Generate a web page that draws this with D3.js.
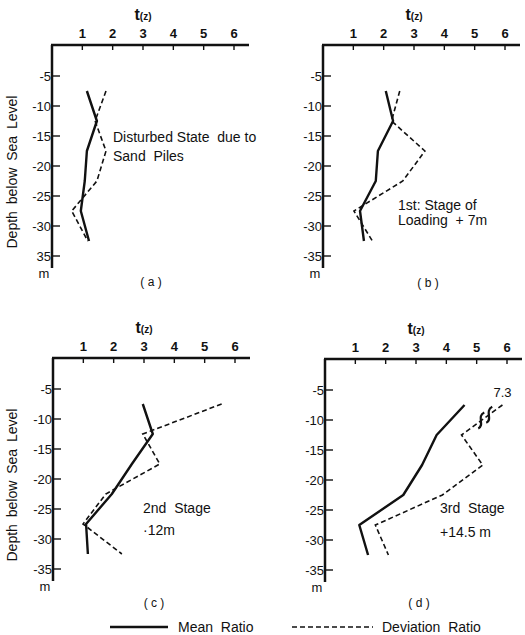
<!DOCTYPE html>
<html>
<head>
<meta charset="utf-8">
<script src="https://cdn.jsdelivr.net/npm/d3@7"></script>
<style>
  html, body { margin: 0; padding: 0; background: #fff; }
  svg { display: block; }
  text { font-family: "Liberation Sans", Arial, Helvetica, sans-serif; fill: #111; }
</style>
</head>
<body>
<svg id="chart" width="525" height="635"></svg>
<script>
// ---- data ----
const depths = [-7.5, -12.5, -17.5, -22.5, -27.5, -32.5];
const meanA = [1.15, 1.48, 1.15, 1.08, 0.95, 1.22];
const devA  = [1.78, 1.42, 1.78, 1.48, 0.65, 1.18];
const meanB = [2.07, 2.31, 1.81, 1.74, 1.22, 1.35];
const devB  = [2.53, 2.26, 3.36, 2.63, 1.02, 1.63];
const meanC = [2.96, 3.29, 2.60, 1.94, 1.09, 1.15];
const devC  = [5.56, 2.96, 3.52, 1.74, 0.99, 2.27];
const meanD = [4.60, 3.68, 3.20, 2.58, 1.13, 1.42];
const devD  = [7.30, 4.50, 5.20, 3.87, 1.66, 2.09];
const xTicks = [1, 2, 3, 4, 5, 6];
const yTicks = [-5, -10, -15, -20, -25, -30, -35];
const panelLabels = ["( a )", "( b )", "( c )", "( d )"];
const notes = [
  ["Disturbed State  due to", "Sand  Piles"],
  ["1st: Stage of", "Loading  + 7m"],
  ["2nd  Stage", "·12m"],
  ["3rd  Stage", "+14.5 m"]
];
const axisCap = 5.85;   // display limit for off-scale value (7.3)
const legendNames = ["Mean  Ratio", "Deviation  Ratio"];

// ---- layout ----
const panels = [
  {ox: 52,  oy: 45,  mean: meanA, dev: devA, note: notes[0], nx: 113, ny: [142, 161], lab: panelLabels[0], lx: 151, ly: 286, ytitle: true, bottom35: "35"},
  {ox: 323, oy: 45,  mean: meanB, dev: devB, note: notes[1], nx: 398, ny: [210, 225], lab: panelLabels[1], lx: 428, ly: 287, ytitle: false},
  {ox: 53,  oy: 358, mean: meanC, dev: devC, note: notes[2], nx: 143, ny: [513, 535], lab: panelLabels[2], lx: 154, ly: 607, ytitle: true},
  {ox: 325, oy: 359, mean: meanD, dev: devD, note: notes[3], nx: 440, ny: [513, 537], lab: panelLabels[3], lx: 419, ly: 607, ytitle: false, brk: true}
];

const svg = d3.select("#chart");
const x = d3.scaleLinear().domain([0, 6]).range([0, 182]);
const y = d3.scaleLinear().domain([0, -35]).range([1, 211]);

panels.forEach((p, pi) => {
  const g = svg.append("g").attr("transform", `translate(${p.ox},${p.oy})`);

  // top axis
  g.append("line").attr("x1", -1).attr("x2", 197).attr("y1", 0).attr("y2", 0)
    .attr("stroke", "#111").attr("stroke-width", 2.5);
  g.selectAll(".xt").data(xTicks).enter().append("line")
    .attr("x1", d => x(d)).attr("x2", d => x(d)).attr("y1", 0).attr("y2", 5)
    .attr("stroke", "#111").attr("stroke-width", 1.4);
  g.selectAll(".xl").data(xTicks).enter().append("text")
    .attr("x", d => x(d)).attr("y", -7).attr("text-anchor", "middle")
    .attr("font-size", 13).attr("font-weight", "bold").text(d => d);
  const tt = g.append("text").attr("x", x(3)).attr("y", -25).attr("text-anchor", "middle");
  tt.append("tspan").attr("font-size", 16).attr("font-weight", "bold").text("t");
  tt.append("tspan").attr("font-size", 10).attr("font-weight", "bold").text("(z)");

  // left axis
  g.append("line").attr("x1", 0).attr("x2", 0).attr("y1", 0).attr("y2", y(-37))
    .attr("stroke", "#111").attr("stroke-width", 2.5);
  g.selectAll(".yt").data(yTicks).enter().append("line")
    .attr("x1", 0).attr("x2", 8).attr("y1", d => y(d)).attr("y2", d => y(d))
    .attr("stroke", "#111").attr("stroke-width", 1.4);
  g.selectAll(".yl").data(yTicks).enter().append("text")
    .attr("x", -1).attr("y", d => y(d) + 5).attr("text-anchor", "end")
    .attr("font-size", 13)
    .text(d => (d === -35 && p.bottom35) ? p.bottom35 : d);
  g.append("text").attr("x", -8).attr("y", y(-37) + 10).attr("text-anchor", "middle")
    .attr("font-size", 13).style("fill", "#111").text("m");

  if (p.ytitle) {
    g.append("text").attr("transform", `translate(${17 - p.ox},${y(-21)}) rotate(-90)`)
      .attr("text-anchor", "middle").attr("font-size", 14).attr("word-spacing", 3)
      .text("Depth below Sea Level");
  }

  // series
  const line = d3.line().x(d => x(Math.min(d[0], axisCap))).y(d => y(d[1]));
  const meanPts = p.mean.map((v, i) => [v, depths[i]]);
  const devPts = p.dev.map((v, i) => [v, depths[i]]);
  g.append("path").datum(devPts).attr("d", line).attr("fill", "none")
    .attr("stroke", "#111").attr("stroke-width", 1.6).attr("stroke-dasharray", "5,3");
  g.append("path").datum(meanPts).attr("d", line).attr("fill", "none")
    .attr("stroke", "#111").attr("stroke-width", 2.4).attr("stroke-linejoin", "round");

  if (p.brk) {
    const a = devPts[0], b = devPts[1];
    const ax = x(Math.min(a[0], axisCap)), ay = y(a[1]);
    const bx = x(b[0]), by = y(b[1]);
    const f = 0.42;
    const cx = ax + (bx - ax) * f, cy = ay + (by - ay) * f;
    [-4, 4].forEach(off => {
      const px = cx + off, py = cy - off * 0.7;
      g.append("path")
        .attr("d", `M${px - 3},${py + 8} C${px + 4},${py + 5} ${px - 5},${py - 4} ${px + 3},${py - 8}`)
        .attr("fill", "none").attr("stroke", "#111").attr("stroke-width", 2.2);
    });
    g.append("text").attr("x", ax).attr("y", ay - 8).attr("text-anchor", "middle")
      .attr("font-size", 13).text(a[0]);
  }

  // notes
  p.note.forEach((t, i) => {
    svg.append("text").attr("x", p.nx).attr("y", p.ny[i]).attr("font-size", 14)
      .attr("xml:space", "preserve").style("white-space", "pre").text(t);
  });
  svg.append("text").attr("x", p.lx).attr("y", p.ly).attr("text-anchor", "middle")
    .attr("font-size", 12).text(p.lab);
});

// legend
const lg = svg.append("g");
lg.append("line").attr("x1", 110).attr("x2", 168).attr("y1", 627).attr("y2", 627)
  .attr("stroke", "#111").attr("stroke-width", 2.4);
lg.append("text").attr("x", 178).attr("y", 632).attr("font-size", 14)
  .style("white-space", "pre").text(legendNames[0]);
lg.append("line").attr("x1", 292).attr("x2", 373).attr("y1", 627).attr("y2", 627)
  .attr("stroke", "#111").attr("stroke-width", 1.6).attr("stroke-dasharray", "5,3");
lg.append("text").attr("x", 382).attr("y", 632).attr("font-size", 14)
  .style("white-space", "pre").text(legendNames[1]);
</script>
</body>
</html>
